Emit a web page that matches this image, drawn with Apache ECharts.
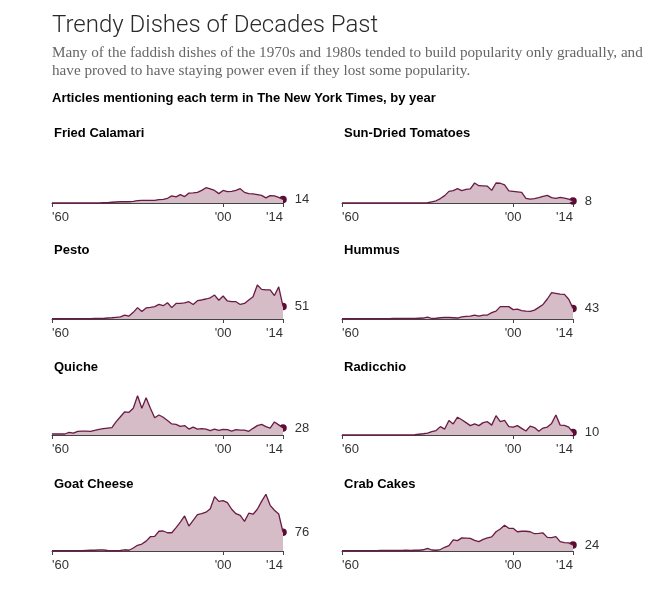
<!DOCTYPE html>
<html>
<head>
<meta charset="utf-8">
<script src="https://cdn.jsdelivr.net/npm/echarts@6/dist/echarts.min.js"></script>
<style>
html,body{margin:0;padding:0;background:#fff;}
#chart{width:659px;height:613px;}
</style>
</head>
<body>
<div id="chart"></div>
<script>
const firstYear = 1960, lastYear = 2014;
const years = [];
for (let y = firstYear; y <= lastYear; y++) years.push(y);

const tickYears = [1960, 2000, 2014];
const tickLabels = ["'60", "'00", "'14"];

const dishNames = ['Fried Calamari', 'Sun-Dried Tomatoes', 'Pesto', 'Hummus', 'Quiche', 'Radicchio', 'Goat Cheese', 'Crab Cakes'];

const friedCalamari = [
  0,0,0,0,0,0,0,0,0,0,
  0,0,1,1,3,4,5,5,5,7,
  10,11,11,11,11,14,15,19,29,25,
  34,26,40,41,43,51,62,57,51,38,
  51,46,47,51,58,43,38,37,34,31,
  21,30,29,23,14];
const sunDriedTomatoes = [
  0,0,0,0,0,0,0,0,0,0,
  0,0,0,0,0,0,0,0,0,0,
  1,5,9,18,30,47,50,58,50,55,
  57,81,70,69,68,51,81,80,73,49,
  47,45,43,19,16,18,22,27,31,22,
  19,23,20,16,8];
const pesto = [
  1,1,1,1,1,1,1,1,1,1,
  2,2,2,4,5,7,9,16,12,27,
  46,30,45,47,50,59,54,66,46,63,
  63,65,70,59,74,77,81,86,97,76,
  93,73,70,70,59,63,77,90,138,120,
  118,118,95,130,51];
const hummus = [
  1,1,1,1,1,1,1,1,1,1,
  1,1,2,2,2,2,2,2,3,4,
  8,2,3,5,6,6,5,4,9,11,
  12,16,12,16,16,26,32,50,50,50,
  38,40,34,32,31,36,47,59,81,107,
  104,101,100,80,43];
const quiche = [
  4,4,4,4,11,8,15,16,16,15,
  19,23,26,28,30,54,74,94,92,108,
  159,108,151,108,70,81,72,59,45,43,
  35,38,24,32,24,26,24,18,24,19,
  23,22,16,22,20,20,15,27,38,43,
  34,28,53,41,28];
const radicchio = [
  0,0,0,0,0,0,0,0,0,0,
  0,0,0,0,0,0,0,1,3,5,
  8,14,18,34,24,59,45,72,62,50,
  38,45,38,50,54,40,78,54,59,34,
  32,38,27,16,36,30,15,28,32,47,
  81,40,39,32,10];
const goatCheese = [
  1,1,1,1,1,1,1,1,2,3,
  3,4,4,2,1,1,2,5,3,12,
  23,28,40,58,59,80,81,74,74,95,
  117,142,101,124,147,151,157,171,220,201,
  204,196,169,151,144,120,153,149,169,201,
  230,185,165,150,76];
const crabCakes = [
  1,1,1,1,1,1,1,1,1,2,
  2,2,2,2,2,3,2,3,3,5,
  11,4,3,6,15,22,45,42,53,52,
  51,43,38,47,53,57,78,89,104,92,
  92,78,80,80,78,70,71,73,55,54,
  58,38,34,33,24];

const dishData = [friedCalamari, sunDriedTomatoes, pesto, hummus, quiche, radicchio, goatCheese, crabCakes];

const lineColor = '#6a1b44';
const fillColor = '#d6bcc7';
const dotColor = '#5a0c35';

const colLeft = [52, 342];
const rowBase = [203, 319, 435, 551];
const plotW = 231, plotH = 60, yMax = 243;

const grids = [], xAxes = [], yAxes = [], series = [];
const titles = [
  {text: 'Trendy Dishes of Decades Past', left: 52, top: 12, padding: 0,
   textStyle: {fontFamily: 'Roboto', fontWeight: 300, fontSize: 24, lineHeight: 28, color: '#2a2a2a'}},
  {text: 'Many of the faddish dishes of the 1970s and 1980s tended to build popularity only gradually, and\nhave proved to have staying power even if they lost some popularity.',
   left: 52, top: 44, padding: 0,
   textStyle: {fontFamily: 'Liberation Serif', fontWeight: 'normal', fontSize: 15.2, lineHeight: 18, color: '#666'}},
  {text: 'Articles mentioning each term in The New York Times, by year', left: 52, top: 90, padding: 0,
   textStyle: {fontFamily: 'Liberation Sans', fontWeight: 'bold', fontSize: 13, lineHeight: 16, color: '#000'}}
];

dishNames.forEach((name, i) => {
  const col = i % 2, row = Math.floor(i / 2);
  const left = colLeft[col];
  const base = rowBase[row];
  const vals = dishData[i];
  grids.push({left: left, width: plotW, top: base - plotH, height: plotH});
  xAxes.push({
    gridIndex: i, type: 'value', min: firstYear, max: lastYear,
    axisLine: {show: true, lineStyle: {color: '#444', width: 1}},
    axisTick: {show: true, customValues: tickYears, length: 4, lineStyle: {color: '#444', width: 1}},
    axisLabel: {
      show: true, customValues: tickYears,
      formatter: v => tickLabels[tickYears.indexOf(v)],
      alignMinLabel: 'left', alignMaxLabel: 'right',
      color: '#333', fontSize: 13, fontFamily: 'Liberation Sans', margin: 8
    },
    splitLine: {show: false}
  });
  yAxes.push({gridIndex: i, type: 'value', min: 0, max: yMax, show: false, splitLine: {show: false}});
  series.push({
    type: 'line', xAxisIndex: i, yAxisIndex: i,
    data: years.map((y, k) => [y, vals[k]]),
    showSymbol: false, clip: false, silent: true,
    lineStyle: {color: lineColor, width: 1.3},
    areaStyle: {color: fillColor, opacity: 1}
  });
  series.push({
    type: 'scatter', xAxisIndex: i, yAxisIndex: i, clip: false, silent: true,
    data: [[lastYear, vals[vals.length - 1]]],
    symbolSize: 7.5, itemStyle: {color: dotColor, opacity: 1},
    label: {show: true, position: 'right', distance: 8, formatter: p => p.value[1],
            color: '#333', fontSize: 13, fontFamily: 'Liberation Sans'}
  });
  titles.push({text: name, left: left + 2, top: base - 78 + row, padding: 0,
    textStyle: {fontFamily: 'Liberation Sans', fontWeight: 'bold', fontSize: 13, lineHeight: 16, color: '#000'}});
});

const chart = echarts.init(document.getElementById('chart'), null, {renderer: 'canvas'});
chart.setOption({
  backgroundColor: '#fff',
  animation: false,
  title: titles,
  grid: grids,
  xAxis: xAxes,
  yAxis: yAxes,
  series: series
});
</script>
</body>
</html>
